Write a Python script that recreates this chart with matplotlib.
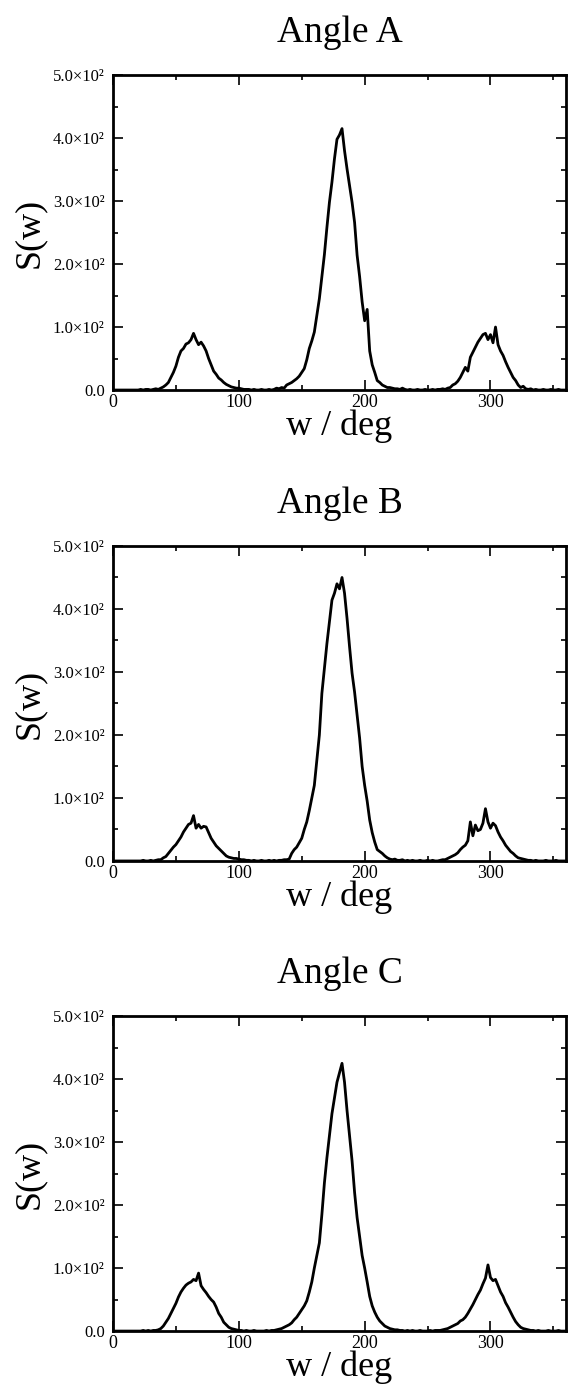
import numpy as np
import matplotlib
matplotlib.use('Agg')
import matplotlib.pyplot as plt
from matplotlib.ticker import MultipleLocator

plt.rcParams['font.family'] = ['Liberation Serif', 'DejaVu Serif']

# sampled every 2 degrees, 0..360
deg = np.arange(0, 361, 2)

angle_a = [
    0, 0, 0, 0, 0, 0, 0, 0, 0, 0,
    0, 1, 0, 1, 1, 0, 1, 2, 1, 3,
    5, 8, 12, 20, 28, 38, 52, 62, 66, 73,
    75, 80, 90, 80, 72, 76, 70, 62, 50, 40,
    30, 25, 19, 16, 12, 9, 7, 5, 4, 3,
    3, 2, 1, 1, 1, 0, 1, 0, 0, 1,
    0, 0, 1, 0, 1, 3, 2, 4, 3, 8,
    10, 12, 15, 18, 22, 28, 34, 48, 66, 78,
    92, 118, 145, 180, 215, 258, 298, 330, 367, 398,
    405, 415, 380, 351, 325, 298, 266, 214, 180, 140,
    110, 128, 62, 40, 28, 15, 12, 8, 6, 4,
    4, 3, 2, 2, 1, 3, 1, 0, 1, 0,
    0, 1, 0, 0, 1, 0, 0, 1, 0, 1,
    1, 2, 1, 3, 4, 8, 10, 14, 20, 28,
    36, 30, 52, 60, 68, 76, 82, 88, 90, 80,
    88, 75, 100, 72, 62, 55, 45, 36, 28, 20,
    15, 8, 4, 6, 2, 1, 2, 0, 1, 0,
    0, 1, 0, 0, 1, 0, 0, 1, 0, 0,
    0,
]

angle_b = [
    0, 0, 0, 0, 0, 0, 0, 0, 0, 0,
    0, 0, 1, 0, 0, 1, 0, 1, 2, 2,
    5, 7, 12, 17, 22, 26, 32, 38, 46, 52,
    58, 60, 72, 52, 58, 52, 55, 54, 45, 36,
    30, 24, 20, 16, 12, 8, 6, 5, 4, 4,
    3, 2, 2, 1, 1, 0, 1, 0, 0, 1,
    0, 0, 1, 0, 1, 0, 1, 1, 2, 2,
    3, 12, 18, 22, 29, 36, 50, 62, 80, 100,
    120, 160, 200, 266, 305, 345, 380, 414, 425, 440,
    432, 450, 425, 385, 340, 298, 268, 232, 195, 150,
    120, 95, 65, 45, 30, 18, 15, 12, 8, 5,
    3, 2, 3, 1, 1, 2, 0, 1, 0, 1,
    0, 0, 1, 0, 0, 1, 0, 1, 0, 0,
    1, 2, 2, 4, 6, 8, 10, 13, 18, 22,
    25, 32, 62, 40, 57, 48, 50, 60, 83, 62,
    52, 60, 56, 46, 38, 32, 25, 20, 15, 12,
    8, 5, 4, 3, 2, 1, 1, 0, 1, 0,
    0, 0, 1, 0, 0, 0, 1, 0, 0, 0,
    0,
]

angle_c = [
    0, 0, 0, 0, 0, 0, 0, 0, 0, 0,
    0, 0, 1, 0, 1, 0, 1, 1, 2, 4,
    8, 14, 20, 28, 36, 44, 54, 62, 68, 73,
    76, 78, 82, 80, 92, 72, 66, 61, 55, 50,
    46, 38, 28, 22, 14, 10, 6, 4, 3, 2,
    1, 1, 0, 1, 0, 0, 1, 0, 0, 0,
    0, 1, 0, 1, 1, 2, 3, 4, 6, 8,
    10, 13, 18, 22, 28, 34, 40, 48, 62, 78,
    100, 120, 140, 185, 235, 275, 310, 345, 370, 395,
    410, 425, 395, 350, 310, 270, 220, 180, 150, 120,
    100, 78, 55, 40, 30, 22, 16, 12, 8, 6,
    4, 3, 2, 2, 1, 1, 0, 1, 0, 1,
    0, 0, 1, 0, 0, 0, 1, 0, 1, 1,
    1, 2, 3, 4, 6, 8, 10, 12, 16, 18,
    22, 28, 35, 42, 50, 58, 65, 75, 84, 105,
    85, 80, 82, 72, 62, 55, 45, 38, 30, 22,
    15, 10, 6, 4, 3, 2, 1, 1, 0, 1,
    0, 0, 0, 1, 0, 0, 0, 1, 0, 0,
    0,
]

titles = ['Angle A', 'Angle B', 'Angle C']
series = [angle_a, angle_b, angle_c]
yticks = [0, 100, 200, 300, 400, 500]
ylabels = ['0.0', '1.0×10²', '2.0×10²', '3.0×10²', '4.0×10²', '5.0×10²']
xticks = [0, 100, 200, 300]

fig = plt.figure(figsize=(5.69, 13.9), dpi=100)
bottoms = [0.7194, 0.3806, 0.0424]

for title, y, b in zip(titles, series, bottoms):
    ax = fig.add_axes([0.1986, b, 0.7961, 0.2266])
    ax.plot(deg, y, color='black', lw=2.0)
    ax.set_xlim(0, 360)
    ax.set_ylim(0, 500)
    ax.set_xticks(xticks)
    ax.set_yticks(yticks)
    ax.set_yticklabels(ylabels)
    ax.xaxis.set_minor_locator(MultipleLocator(50))
    ax.yaxis.set_minor_locator(MultipleLocator(50))
    ax.tick_params(which='both', direction='in', top=True, right=True, width=1.2)
    ax.tick_params(which='major', length=7)
    ax.tick_params(which='minor', length=3.5)
    ax.tick_params(axis='y', labelsize=12, pad=6)
    ax.tick_params(axis='x', labelsize=13, pad=3)
    for s in ax.spines.values():
        s.set_linewidth(2)
    ax.set_title(title, fontsize=27, pad=24)
    ax.set_xlabel('w / deg', fontsize=26, labelpad=-1)
    ax.set_ylabel('S(w)', fontsize=26, labelpad=5)

plt.savefig('out.png')
